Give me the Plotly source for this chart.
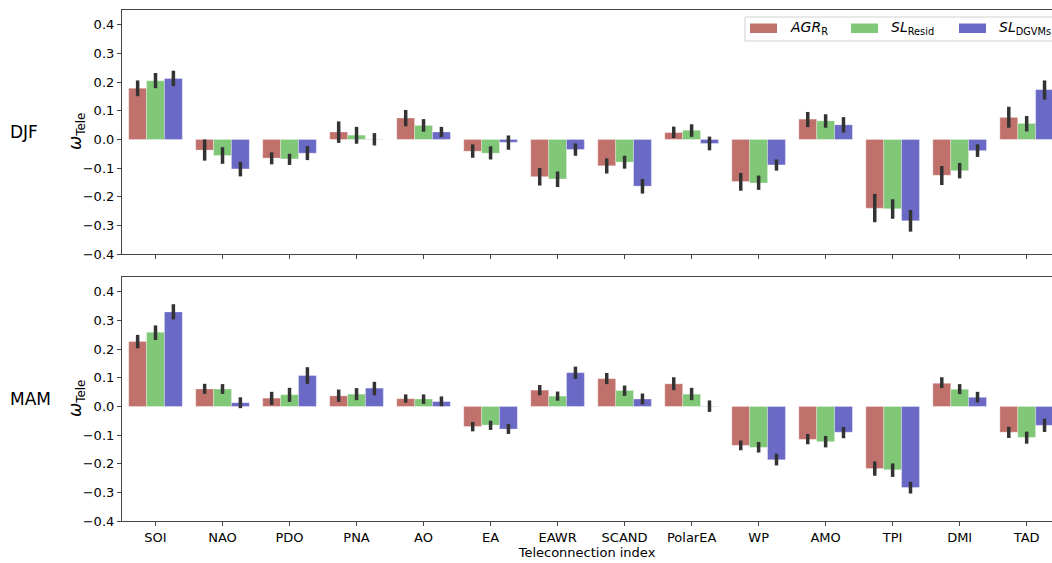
import plotly.graph_objects as go

categories = ["SOI", "NAO", "PDO", "PNA", "AO", "EA", "EAWR", "SCAND", "PolarEA",
              "WP", "AMO", "TPI", "DMI", "TAD"]
series_names = ["<i>AGR</i><sub>R</sub>", "<i>SL</i><sub>Resid</sub>", "<i>SL</i><sub>DGVMs</sub>"]
y_ticks = [-0.4, -0.3, -0.2, -0.1, 0.0, 0.1, 0.2, 0.3, 0.4]

# DJF
djf_agr = [0.179, -0.037, -0.065, 0.026, 0.075, -0.041, -0.130, -0.092, 0.024, -0.147, 0.071, -0.240, -0.125, 0.077]
djf_agr_lo = [0.151, -0.074, -0.087, -0.012, 0.046, -0.064, -0.161, -0.119, 0.005, -0.179, 0.043, -0.289, -0.159, 0.041]
djf_agr_hi = [0.206, 0.000, -0.045, 0.063, 0.103, -0.017, -0.100, -0.066, 0.045, -0.117, 0.096, -0.190, -0.093, 0.114]

djf_resid = [0.205, -0.056, -0.068, 0.015, 0.049, -0.048, -0.138, -0.079, 0.032, -0.152, 0.065, -0.242, -0.109, 0.056]
djf_resid_lo = [0.179, -0.085, -0.089, -0.015, 0.027, -0.070, -0.166, -0.102, 0.009, -0.176, 0.041, -0.277, -0.136, 0.028]
djf_resid_hi = [0.232, -0.027, -0.050, 0.044, 0.071, -0.024, -0.112, -0.057, 0.053, -0.126, 0.088, -0.209, -0.082, 0.082]

djf_dgvm = [0.213, -0.103, -0.048, 0.001, 0.026, -0.010, -0.035, -0.163, -0.014, -0.089, 0.051, -0.284, -0.039, 0.174]
djf_dgvm_lo = [0.186, -0.129, -0.072, -0.021, 0.008, -0.036, -0.057, -0.189, -0.038, -0.109, 0.024, -0.322, -0.061, 0.139]
djf_dgvm_hi = [0.240, -0.078, -0.023, 0.022, 0.044, 0.014, -0.014, -0.138, 0.010, -0.070, 0.078, -0.246, -0.017, 0.206]

# MAM
mam_agr = [0.227, 0.061, 0.029, 0.037, 0.027, -0.070, 0.057, 0.097, 0.079, -0.136, -0.115, -0.217, 0.081, -0.090]
mam_agr_lo = [0.203, 0.044, 0.005, 0.016, 0.013, -0.087, 0.039, 0.078, 0.057, -0.153, -0.132, -0.242, 0.064, -0.110]
mam_agr_hi = [0.250, 0.079, 0.051, 0.059, 0.042, -0.054, 0.075, 0.117, 0.102, -0.119, -0.096, -0.192, 0.102, -0.071]

mam_resid = [0.259, 0.061, 0.041, 0.043, 0.026, -0.065, 0.036, 0.056, 0.043, -0.143, -0.123, -0.221, 0.060, -0.108]
mam_resid_lo = [0.232, 0.044, 0.016, 0.022, 0.009, -0.082, 0.020, 0.037, 0.022, -0.161, -0.143, -0.246, 0.043, -0.130]
mam_resid_hi = [0.283, 0.078, 0.065, 0.064, 0.042, -0.050, 0.052, 0.073, 0.065, -0.124, -0.103, -0.199, 0.078, -0.088]

mam_dgvm = [0.330, 0.013, 0.108, 0.064, 0.017, -0.079, 0.118, 0.026, -0.001, -0.186, -0.090, -0.283, 0.032, -0.066]
mam_dgvm_lo = [0.304, -0.006, 0.079, 0.039, 0.001, -0.096, 0.096, 0.007, -0.019, -0.206, -0.111, -0.304, 0.014, -0.089]
mam_dgvm_hi = [0.357, 0.032, 0.137, 0.086, 0.035, -0.061, 0.139, 0.045, 0.021, -0.165, -0.072, -0.263, 0.051, -0.043]

colors = ["#C1716B", "#80C878", "#6A6AC6"]
err_color = "#333333"
FONT = "DejaVu Sans"

W, H = 1052, 563
L, R, T, B = 122, 0, 10, 42
pw, ph = W - L - R, H - T - B

def px_x(px):
    return (px - L) / pw

def px_y(py):
    return (H - B - py) / ph

fig = go.Figure()

panels = [
    ("x", "y", [(djf_agr, djf_agr_lo, djf_agr_hi), (djf_resid, djf_resid_lo, djf_resid_hi),
                (djf_dgvm, djf_dgvm_lo, djf_dgvm_hi)]),
    ("x2", "y2", [(mam_agr, mam_agr_lo, mam_agr_hi), (mam_resid, mam_resid_lo, mam_resid_hi),
                  (mam_dgvm, mam_dgvm_lo, mam_dgvm_hi)]),
]

for xa, ya, sers in panels:
    for i, (vals, lo, hi) in enumerate(sers):
        fig.add_trace(go.Bar(
            x=categories, y=vals, xaxis=xa, yaxis=ya,
            name=series_names[i], showlegend=False,
            marker=dict(color=colors[i], line=dict(color="rgba(255,255,255,0.5)", width=0.6)),
            offsetgroup=str(i),
            error_y=dict(type="data", symmetric=False,
                         array=[h - v for h, v in zip(hi, vals)],
                         arrayminus=[v - l for v, l in zip(vals, lo)],
                         color=err_color, thickness=3.5, width=0),
        ))

axis_line = "#444444"
xcommon = dict(type="category", range=[-0.5, 13.378], showline=True, linecolor=axis_line,
               linewidth=1.2, mirror=True, ticks="outside", ticklen=4, tickcolor=axis_line,
               showgrid=False, zeroline=False, domain=[0, 1],
               tickfont=dict(family=FONT, size=13, color="#000"))
ycommon = dict(range=[-0.4, 0.452], tickvals=y_ticks, tickformat=".1f", showline=True,
               linecolor=axis_line, linewidth=1.2, ticks="outside", ticklen=4, tickcolor=axis_line,
               showgrid=False, zeroline=False, tickfont=dict(family=FONT, size=13, color="#000"))

top_dom = [px_y(254), 1.0]
bot_dom = [0.0, px_y(277)]

fig.update_layout(
    width=W, height=H,
    margin=dict(l=L, r=R, t=T, b=B),
    paper_bgcolor="white", plot_bgcolor="white",
    barmode="group", bargap=0.2, bargroupgap=0.0,
    showlegend=False,
    font=dict(family=FONT, size=13, color="#000"),
    xaxis=dict(**xcommon, anchor="y", showticklabels=False),
    yaxis=dict(**ycommon, anchor="x", domain=top_dom),
    xaxis2=dict(**xcommon, anchor="y2", showticklabels=True,
                title=dict(text="Teleconnection index", font=dict(family=FONT, size=13), standoff=2)),
    yaxis2=dict(**ycommon, anchor="x2", domain=bot_dom),
)

annotations = []
for label, yc in [("DJF", (10 + 254) / 2), ("MAM", (277 + 521) / 2)]:
    annotations.append(dict(text=label, xref="paper", yref="paper", x=px_x(8), y=px_y(yc),
                            xanchor="left", yanchor="middle", showarrow=False,
                            font=dict(family=FONT, size=17, color="#000")))
    annotations.append(dict(text="<i>ω</i><sub>Tele</sub>", xref="paper", yref="paper",
                            x=px_x(76), y=px_y(yc), xanchor="center", yanchor="middle",
                            textangle=-90, showarrow=False,
                            font=dict(family=FONT, size=17, color="#000")))

# legend (custom, top right of upper panel)
shapes = [dict(type="rect", xref="paper", yref="paper", x0=px_x(745), x1=px_x(1060),
               y0=px_y(41), y1=px_y(17), line=dict(color="#d0d0d0", width=1),
               fillcolor="rgba(255,255,255,0.85)", layer="above")]
leg_items = [(750, 788), (851, 889), (959, 997)]
for i, (px0, tx) in enumerate(leg_items):
    shapes.append(dict(type="rect", xref="paper", yref="paper", x0=px_x(px0), x1=px_x(px0 + 27),
                       y0=px_y(33), y1=px_y(23.5), line=dict(width=0),
                       fillcolor=colors[i], layer="above"))
    annotations.append(dict(text=series_names[i], xref="paper", yref="paper", x=px_x(tx),
                            y=px_y(28), xanchor="left", yanchor="middle", showarrow=False,
                            font=dict(family=FONT, size=14, color="#000")))

fig.update_layout(annotations=annotations, shapes=shapes)

fig.write_html("out.html", config={"displayModeBar": False},
               post_script="document.body.style.margin='0';document.body.style.overflow='hidden';")
